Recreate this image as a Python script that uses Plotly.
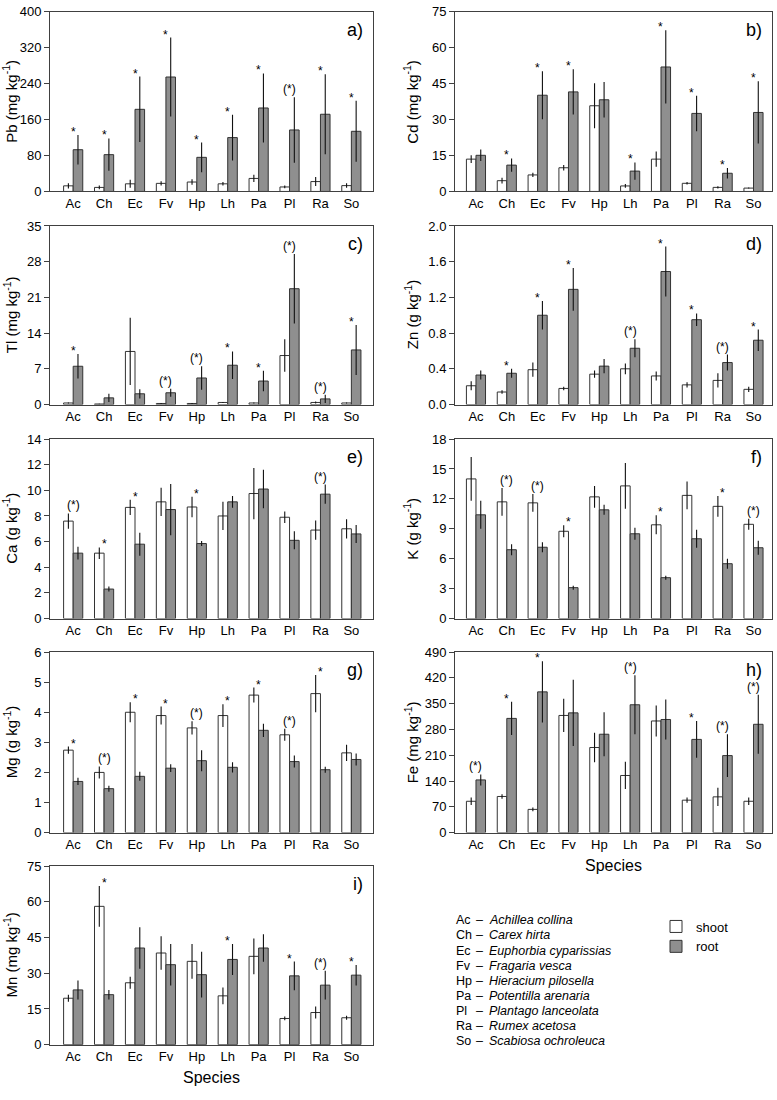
import plotly.graph_objects as go

species = ['Ac', 'Ch', 'Ec', 'Fv', 'Hp', 'Lh', 'Pa', 'Pl', 'Ra', 'So']

# a) Pb
pb_shoot = [12.5, 9, 17, 18, 21, 17, 29, 10, 22, 13]
pb_shoot_err = [6, 4, 9, 5, 6, 4, 8, 3, 10, 5]
pb_root = [93, 82, 183, 255, 76, 120, 186, 137, 172, 134]
pb_root_err = [33, 36, 73, 88, 33, 51, 77, 73, 89, 68]
pb_sig = ['*', '*', '*', '*', '*', '*', '*', '(*)', '*', '*']

# b) Cd
cd_shoot = [13.5, 4.5, 6.9, 9.9, 35.8, 2.3, 13.5, 3.4, 1.7, 1.4]
cd_shoot_err = [1.6, 1.2, 0.9, 1.1, 9.4, 0.8, 3.2, 0.5, 0.5, 0.2]
cd_root = [15.1, 11.0, 40.2, 41.6, 38.3, 8.5, 52.0, 32.6, 7.6, 33.0]
cd_root_err = [2.4, 2.8, 10, 9.5, 7.4, 3.6, 15.3, 7.4, 2.2, 13.0]
cd_sig = ['', '*', '*', '*', '', '*', '*', '*', '*', '*']

# c) Tl
tl_shoot = [0.3, 0.1, 10.4, 0.2, 0.2, 0.4, 0.3, 9.6, 0.4, 0.3]
tl_shoot_err = [0.1, 0.05, 6.6, 0.1, 0.1, 0.1, 0.1, 3.2, 0.2, 0.1]
tl_root = [7.5, 1.3, 2.1, 2.3, 5.2, 7.7, 4.6, 22.7, 1.1, 10.7]
tl_root_err = [2.4, 0.8, 0.9, 0.8, 2.3, 2.7, 2.0, 6.8, 0.8, 4.9]
tl_sig = ['*', '', '', '(*)', '(*)', '*', '*', '(*)', '(*)', '*']

# d) Zn
zn_shoot = [0.21, 0.14, 0.39, 0.18, 0.34, 0.40, 0.32, 0.22, 0.27, 0.17]
zn_shoot_err = [0.05, 0.02, 0.08, 0.02, 0.04, 0.06, 0.05, 0.03, 0.08, 0.03]
zn_root = [0.33, 0.35, 1.00, 1.29, 0.43, 0.63, 1.49, 0.95, 0.47, 0.72]
zn_root_err = [0.05, 0.05, 0.16, 0.24, 0.08, 0.10, 0.28, 0.07, 0.09, 0.12]
zn_sig = ['', '*', '*', '*', '', '(*)', '*', '*', '(*)', '*']

# e) Ca
ca_shoot = [7.6, 5.1, 8.67, 9.1, 8.7, 8.0, 9.75, 7.9, 6.9, 7.0]
ca_shoot_err = [0.6, 0.45, 0.6, 1.1, 0.8, 1.1, 2.0, 0.45, 0.75, 0.75]
ca_root = [5.1, 2.3, 5.8, 8.5, 5.85, 9.1, 10.1, 6.1, 9.7, 6.6]
ca_root_err = [0.5, 0.2, 0.9, 2.0, 0.2, 0.45, 1.5, 0.7, 0.75, 0.7]
ca_sig = ['(*)', '*', '*', '', '*', '', '', '', '(*)', '']

# f) K
k_shoot = [14.0, 11.7, 11.6, 8.75, 12.2, 13.3, 9.4, 12.35, 11.25, 9.45]
k_shoot_err = [2.2, 1.4, 0.9, 0.6, 1.1, 2.3, 0.95, 1.4, 1.05, 0.55]
k_root = [10.4, 6.9, 7.15, 3.1, 10.9, 8.5, 4.1, 8.0, 5.5, 7.1]
k_root_err = [1.4, 0.55, 0.5, 0.2, 0.5, 0.6, 0.2, 0.9, 0.5, 0.7]
k_sig = ['', '(*)', '(*)', '*', '', '', '*', '', '*', '(*)']

# g) Mg
mg_shoot = [2.74, 2.0, 4.0, 3.89, 3.48, 3.89, 4.57, 3.25, 4.62, 2.65]
mg_shoot_err = [0.12, 0.2, 0.33, 0.3, 0.22, 0.38, 0.25, 0.2, 0.62, 0.27]
mg_root = [1.7, 1.46, 1.87, 2.14, 2.39, 2.17, 3.4, 2.36, 2.09, 2.43]
mg_root_err = [0.12, 0.1, 0.15, 0.13, 0.35, 0.17, 0.22, 0.2, 0.1, 0.2]
mg_sig = ['*', '(*)', '*', '*', '(*)', '*', '*', '(*)', '*', '']

# h) Fe
fe_shoot = [85, 98, 63, 318, 231, 155, 303, 88, 97, 85]
fe_shoot_err = [10, 6, 5, 45, 40, 37, 42, 7, 25, 10]
fe_root = [143, 310, 382, 325, 267, 347, 307, 253, 209, 294]
fe_root_err = [15, 45, 83, 90, 60, 80, 54, 50, 58, 80]
fe_sig = ['(*)', '*', '*', '', '', '(*)', '', '*', '(*)', '(*)']

# i) Mn
mn_shoot = [19.5, 58.1, 26, 38.5, 35, 20.5, 37.1, 11, 13.5, 11.3]
mn_shoot_err = [1.5, 8.6, 2.5, 7, 7.3, 3.5, 7.5, 0.8, 2.5, 0.8]
mn_root = [23, 21, 40.6, 33.6, 29.4, 35.8, 40.6, 28.9, 25, 29.2]
mn_root_err = [4, 2, 8.7, 8.7, 9.6, 6.5, 5.8, 6, 6, 4.3]
mn_sig = ['', '*', '', '', '', '*', '', '*', '(*)', '*']

legend_codes = ['Ac', 'Ch', 'Ec', 'Fv', 'Hp', 'Pa', 'Pl', 'Ra', 'So']
legend_names = ['Achillea collina', 'Carex hirta', 'Euphorbia cyparissias',
                'Fragaria vesca', 'Hieracium pilosella', 'Potentilla arenaria',
                'Plantago lanceolata', 'Rumex acetosa', 'Scabiosa ochroleuca']

panels = [
    ('a)', 'Pb (mg kg<sup>-1</sup>)', pb_shoot, pb_shoot_err, pb_root, pb_root_err, pb_sig, 400, 80),
    ('b)', 'Cd (mg kg<sup>-1</sup>)', cd_shoot, cd_shoot_err, cd_root, cd_root_err, cd_sig, 75, 15),
    ('c)', 'Tl (mg kg<sup>-1</sup>)', tl_shoot, tl_shoot_err, tl_root, tl_root_err, tl_sig, 35, 7),
    ('d)', 'Zn (g kg<sup>-1</sup>)', zn_shoot, zn_shoot_err, zn_root, zn_root_err, zn_sig, 2.0, 0.4),
    ('e)', 'Ca (g kg<sup>-1</sup>)', ca_shoot, ca_shoot_err, ca_root, ca_root_err, ca_sig, 14, 2),
    ('f)', 'K (g kg<sup>-1</sup>)', k_shoot, k_shoot_err, k_root, k_root_err, k_sig, 18, 3),
    ('g)', 'Mg (g kg<sup>-1</sup>)', mg_shoot, mg_shoot_err, mg_root, mg_root_err, mg_sig, 6, 1),
    ('h)', 'Fe (mg kg<sup>-1</sup>)', fe_shoot, fe_shoot_err, fe_root, fe_root_err, fe_sig, 490, 70),
    ('i)', 'Mn (mg kg<sup>-1</sup>)', mn_shoot, mn_shoot_err, mn_root, mn_root_err, mn_sig, 75, 15),
]

W, H = 777, 1100
FONT = 'Liberation Sans, Arial, sans-serif'
LINE = '#404040'
# pixel boxes of the plot areas
cols_px = [(50, 373), (455, 772)]
rows_px = [(5, 187), (222, 403), (438, 620), (654, 837), (871, 1052)]
xranges = [[-0.75, 9.7], [-0.68, 9.6]]
ytitle_x = [10, 411]

fig = go.Figure()
annotations = []
layout = {}

for n, (lab, ytitle, sh, sh_e, rt, rt_e, sig, ymax, dt) in enumerate(panels, start=1):
    xa = 'x' if n == 1 else f'x{n}'
    ya = 'y' if n == 1 else f'y{n}'
    row, col = (n - 1) // 2, (n - 1) % 2
    x0, x1 = cols_px[col]
    t, b = rows_px[row]

    fig.add_trace(go.Bar(
        x=species, y=sh, name='shoot', legendgroup='shoot', showlegend=(n == 1),
        marker=dict(color='white', line=dict(color='#333333', width=1)),
        error_y=dict(type='data', array=sh_e, color='#111111', thickness=1.1, width=0),
        xaxis=xa, yaxis=ya))
    fig.add_trace(go.Bar(
        x=species, y=rt, name='root', legendgroup='root', showlegend=(n == 1),
        marker=dict(color='#8f8f8f', line=dict(color='#333333', width=1)),
        error_y=dict(type='data', array=rt_e, color='#111111', thickness=1.1, width=0),
        xaxis=xa, yaxis=ya))

    xkey = 'xaxis' if n == 1 else f'xaxis{n}'
    ykey = 'yaxis' if n == 1 else f'yaxis{n}'
    layout[xkey] = dict(
        domain=[x0 / W, x1 / W], anchor=ya, type='category', range=xranges[col],
        showline=True, mirror=True, linecolor=LINE, linewidth=1, ticks='',
        showgrid=False, zeroline=False, tickfont=dict(size=13, color='black'))
    if lab in ('h)', 'i)'):
        layout[xkey]['title'] = dict(text='Species', font=dict(size=16, color='black'), standoff=8)
    layout[ykey] = dict(
        domain=[1 - b / H, 1 - t / H], anchor=xa, range=[0, ymax], dtick=dt, tick0=0,
        showline=True, mirror=True, linecolor=LINE, linewidth=1, ticks='outside',
        ticklen=5, tickcolor=LINE, showgrid=False, zeroline=False,
        tickfont=dict(size=13, color='black'),
        tickformat='.1f' if lab == 'd)' else None)

    # y title
    annotations.append(dict(
        text=ytitle, x=ytitle_x[col] / W, y=1 - (t + b) / 2 / H, xref='paper', yref='paper',
        textangle=-90, showarrow=False, xanchor='center', yanchor='middle',
        font=dict(size=15, color='black')))
    # panel label
    annotations.append(dict(
        text=lab, x=0.975, y=0.9, xref=f'{xa} domain', yref=f'{ya} domain',
        xanchor='right', yanchor='middle', showarrow=False,
        font=dict(size=18, color='black')))
    # significance marks above the higher error bar of each pair
    for i, s in enumerate(sig):
        if not s:
            continue
        top = max(sh[i] + sh_e[i], rt[i] + rt_e[i])
        annotations.append(dict(
            text=s, x=species[i], y=top, xref=xa, yref=ya, showarrow=False,
            xanchor='center', yanchor='bottom', yshift=-6 if s == '*' else -1,
            font=dict(size=12, color='black')))

# species key
y0, dy = 926, 15.3
for i, (c, nm) in enumerate(zip(legend_codes, legend_names)):
    yy = 1 - (y0 + i * dy) / H
    annotations.append(dict(text=c, x=454 / W, y=yy, xref='paper', yref='paper',
                            xanchor='left', yanchor='middle', showarrow=False,
                            font=dict(size=12.5, color='black')))
    annotations.append(dict(text='–', x=474 / W, y=yy, xref='paper', yref='paper',
                            xanchor='left', yanchor='middle', showarrow=False,
                            font=dict(size=12.5, color='black')))
    annotations.append(dict(text=f'<i>{nm}</i>', x=487 / W, y=yy, xref='paper', yref='paper',
                            xanchor='left', yanchor='middle', showarrow=False,
                            font=dict(size=12.5, color='black')))

fig.update_layout(
    width=W, height=H, margin=dict(l=0, r=0, t=0, b=0),
    paper_bgcolor='white', plot_bgcolor='white',
    font=dict(family=FONT, size=13, color='black'),
    barmode='group', bargap=0.38, bargroupgap=0,
    legend=dict(x=656 / W, y=1 - 917 / H, xanchor='left', yanchor='top',
                font=dict(size=13), tracegroupgap=0, bgcolor='rgba(0,0,0,0)',
                itemwidth=30),
    annotations=annotations,
    **layout)

# the browser adds a default body margin; remove it so the figure fills the window
fig.write_html('out.html', config={'displayModeBar': False},
               post_script="document.body.style.margin='0';document.body.style.padding='0';")
